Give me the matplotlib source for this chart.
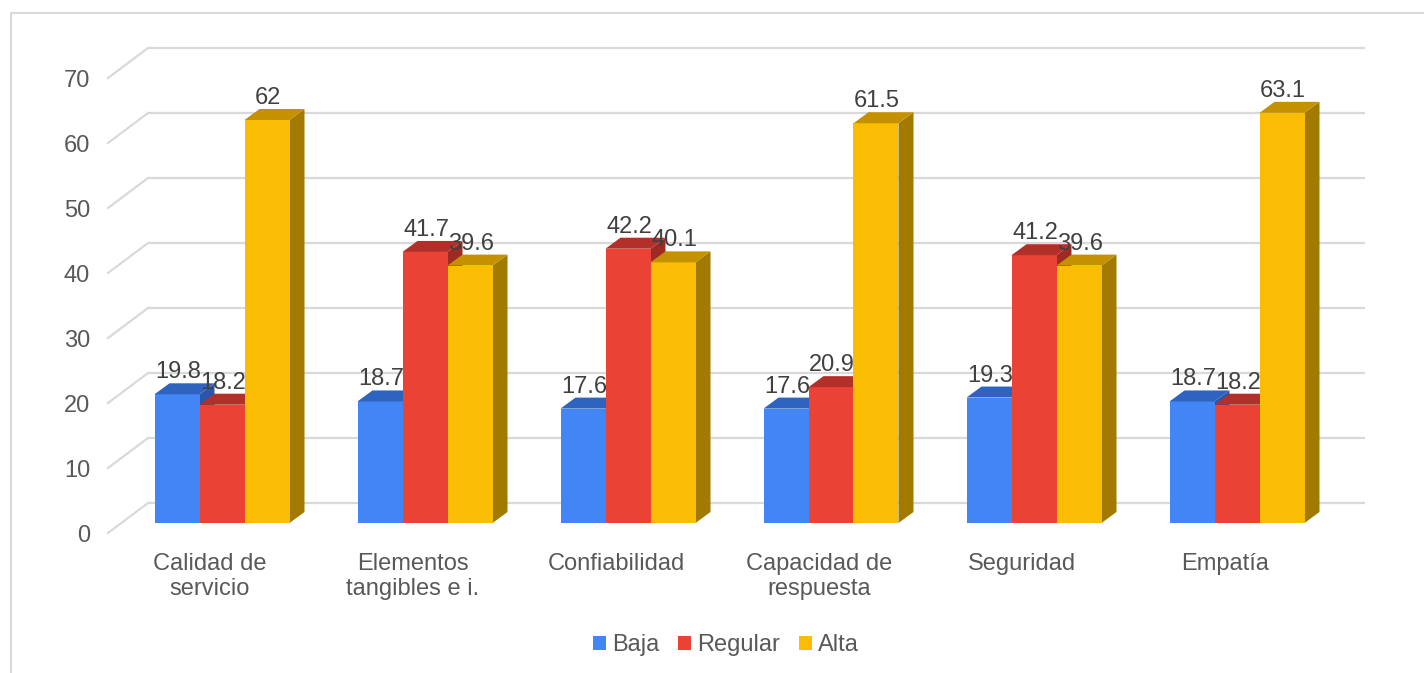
import matplotlib
matplotlib.use("Agg")
import matplotlib.pyplot as plt
from matplotlib.patches import Polygon, Rectangle, Patch
from matplotlib.lines import Line2D

categories = ["Calidad de\nservicio", "Elementos\ntangibles e i.", "Confiabilidad",
              "Capacidad de\nrespuesta", "Seguridad", "Empatía"]
baja = [19.8, 18.7, 17.6, 17.6, 19.3, 18.7]
regular = [18.2, 41.7, 42.2, 20.9, 41.2, 18.2]
alta = [62, 39.6, 40.1, 61.5, 39.6, 63.1]
series_names = ["Baja", "Regular", "Alta"]
y_ticks = [0, 10, 20, 30, 40, 50, 60, 70]

front_colors = ["#4285F4", "#EA4335", "#FBBC04"]
top_colors = ["#2F63C0", "#B3302A", "#C49200"]
side_colors = ["#2A55A8", "#9E2A24", "#A27A00"]

plt.rcParams["font.family"] = ["Liberation Sans", "DejaVu Sans"]
FS = 17

W, H = 1424, 673
fig = plt.figure(figsize=(W / 100, H / 100), dpi=100)
ax = fig.add_axes([0, 0, 1, 1])
PX_X = 203.0   # pixels per category
PX_Y = 6.5     # pixels per value unit
X0, Y0 = 222.0, 523.0
ax.set_xlim(-X0 / PX_X, (W - X0) / PX_X)
ax.set_ylim(-(H - Y0) / PX_Y, Y0 / PX_Y)
ax.axis("off")

def px_x(p):
    return p / PX_X

def px_y(p):
    return p / PX_Y

# back wall gridlines + left diagonals
back_left = px_x(148 - X0)
back_right = px_x(1365 - X0)
front_left = px_x(108 - X0)
back_off = px_y(20)
front_off = px_y(-10)
grid_c = "#D9D9D9"
for v in y_ticks:
    ax.plot([back_left, back_right], [v + back_off, v + back_off], color=grid_c, lw=1.6, zorder=1,
            solid_capstyle="butt")
    ax.plot([front_left, back_left], [v + front_off, v + back_off], color=grid_c, lw=1.6, zorder=1)
    ax.text(px_x(90 - X0), v - px_y(13), str(v), ha="right", va="center", fontsize=FS,
            color="#595959")

# bars
bw = 45 / PX_X
ddx = 15 / PX_X
ddy = 11 / PX_Y
series = [baja, regular, alta]
z = 2
for i in range(len(categories)):
    for s, vals in enumerate(series):
        v = vals[i]
        xl = i + (s - 1) * bw - bw / 2
        xr = xl + bw
        front = Rectangle((xl, 0), bw, v, facecolor=front_colors[s], edgecolor="none", zorder=z)
        side = Polygon([(xr, 0), (xr + ddx, ddy), (xr + ddx, v + ddy), (xr, v)],
                       facecolor=side_colors[s], edgecolor="none", zorder=z)
        top = Polygon([(xl, v), (xl + ddx, v + ddy), (xr + ddx, v + ddy), (xr, v)],
                      facecolor=top_colors[s], edgecolor="none", zorder=z)
        ax.add_patch(side)
        ax.add_patch(front)
        ax.add_patch(top)
        z += 1
        ax.text(xl + bw / 2 + px_x(1), v + ddy, f"{v:g}", ha="center", va="bottom",
                fontsize=FS, color="#404040", zorder=100)

# category labels
for i, c in enumerate(categories):
    ax.text(i - px_x(12), px_y(-30), c, ha="center", va="top", fontsize=FS,
            color="#595959", linespacing=1.15, multialignment="center")

handles = [Patch(facecolor=front_colors[k], edgecolor="none") for k in range(3)]
fig.legend(handles, series_names, loc="center", bbox_to_anchor=(726 / W, 1 - 645 / H),
           ncol=3, frameon=False, fontsize=FS, handlelength=0.55, handleheight=0.55,
           handletextpad=0.25, columnspacing=0.8, labelcolor="#595959")

# chart-area border (left and top edges visible)
fig.lines.append(Line2D([10.5 / W, 10.5 / W, 1.0], [0.0, 1 - 12.5 / H, 1 - 12.5 / H],
                        transform=fig.transFigure, color="#D9D9D9", lw=1.5))

fig.savefig("out.png", dpi=100, facecolor="white")
